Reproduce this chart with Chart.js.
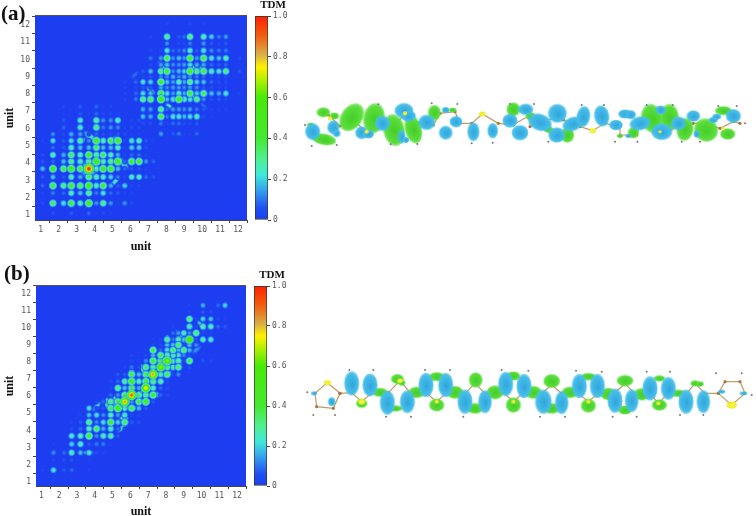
<!DOCTYPE html>
<html>
<head>
<meta charset="utf-8" />
<title>TDM</title>
<style>
html, body { margin: 0; padding: 0; background: #fff; }
#page { position: relative; width: 756px; height: 516px; overflow: hidden; filter: blur(0.4px); }
#page div { position: absolute; }
.tag { font: bold 21px "Liberation Serif", serif; color: #111; }
</style>
</head>
<body>
<div id="page">
  <div style="left:0;top:0;width:250px;height:254px"><canvas id="heatA" width="250" height="254"></canvas></div>
  <div style="left:231px;top:0;width:60px;height:240px"><canvas id="barA" width="60" height="240"></canvas></div>
  <div style="left:300px;top:90px;width:456px;height:70px"><canvas id="molA" width="456" height="70"></canvas></div>
  <div style="left:0;top:270px;width:249px;height:249px"><canvas id="heatB" width="249" height="249"></canvas></div>
  <div style="left:230px;top:270px;width:60px;height:236px"><canvas id="barB" width="60" height="236"></canvas></div>
  <div style="left:300px;top:360px;width:456px;height:70px"><canvas id="molB" width="456" height="70"></canvas></div>
  <div class="tag" style="left:1px;top:1px">(a)</div>
  <div class="tag" style="left:4px;top:261px">(b)</div>
</div>
<script src="https://cdn.jsdelivr.net/npm/chart.js@4"></script>
<script>
var unitTicks = [1, 2, 3, 4, 5, 6, 7, 8, 9, 10, 11, 12];
var unitMarks = [1.5, 2.5, 3.5, 4.5, 5.5, 6.5, 7.5, 8.5, 9.5, 10.5, 11.5, 12.5];
var barTicks = [0, 0.2, 0.4, 0.6, 0.8, 1];

// colour bar, value then colour
var mapValues = [0, 0.06, 0.12, 0.17, 0.22, 0.3, 0.4, 0.6, 0.68, 0.75, 0.81, 0.9, 1];
var mapColors = ["#1c3ef0", "#2050f0", "#3088f0", "#38b8e8", "#40e8d8", "#50f090", "#44ea30", "#48ea08", "#a8f000", "#fff000", "#d8b048", "#f06010", "#ff2000"];

// panel a, lower cluster: spot positions in unit, values in percent, rows from the top
var aLowPos = [1.1, 1.68, 2.27, 2.7, 3.2, 3.68, 4.1, 4.48, 4.9, 5.3, 5.68, 6.07, 6.48, 6.87, 7.28];
var aLow = [
  [0, 0, 4, 0, 8, 0, 10, 3, 3, 0, 0, 0, 0, 0, 0],
  [0, 0, 3, 0, 8, 3, 10, 5, 5, 3, 0, 0, 0, 0, 0],
  [0, 0, 8, 0, 28, 3, 34, 15, 15, 30, 0, 5, 6, 0, 0],
  [0, 0, 10, 0, 28, 3, 36, 12, 15, 14, 4, 6, 5, 0, 0],
  [0, 14, 5, 18, 16, 6, 10, 6, 6, 8, 5, 3, 3, 0, 0],
  [3, 24, 8, 24, 34, 14, 50, 30, 42, 50, 5, 26, 30, 8, 3],
  [0, 10, 8, 30, 20, 20, 40, 20, 20, 30, 4, 22, 22, 6, 0],
  [6, 30, 18, 40, 30, 48, 34, 40, 30, 18, 5, 10, 10, 3, 0],
  [8, 10, 20, 35, 30, 35, 58, 30, 35, 55, 10, 45, 45, 15, 10],
  [20, 50, 42, 55, 45, 100, 30, 50, 50, 20, 10, 8, 8, 3, 0],
  [8, 20, 8, 30, 18, 40, 30, 28, 22, 12, 5, 28, 28, 10, 8],
  [10, 45, 35, 48, 40, 55, 30, 45, 18, 8, 22, 5, 4, 0, 0],
  [3, 12, 10, 30, 20, 35, 12, 25, 10, 8, 3, 3, 0, 0, 0],
  [5, 40, 25, 45, 30, 52, 15, 35, 15, 3, 15, 5, 0, 0, 0],
  [0, 6, 0, 8, 0, 10, 3, 5, 3, 0, 0, 0, 0, 0, 0]
];

// panel a, upper cluster
var aHighPos = [5.7, 6.3, 6.7, 7.12, 7.7, 8.04, 8.38, 8.7, 9.0, 9.32, 9.7, 10.08, 10.52, 10.93, 11.32, 12.08];
var aHigh = [
  [0, 0, 0, 0, 0, 5, 0, 0, 0, 5, 0, 3, 0, 0, 0, 0],
  [0, 0, 0, 4, 0, 34, 0, 8, 10, 36, 0, 32, 22, 12, 16, 0],
  [0, 0, 0, 0, 0, 14, 0, 5, 5, 12, 0, 16, 8, 4, 8, 0],
  [0, 0, 0, 4, 5, 26, 10, 10, 14, 28, 8, 26, 14, 12, 12, 0],
  [0, 0, 0, 12, 16, 42, 14, 20, 16, 46, 16, 44, 26, 20, 30, 6],
  [0, 0, 0, 6, 16, 20, 14, 14, 16, 24, 18, 18, 10, 8, 10, 0],
  [0, 0, 8, 20, 36, 44, 14, 20, 22, 50, 36, 44, 30, 26, 36, 8],
  [0, 0, 4, 8, 14, 14, 18, 14, 18, 14, 12, 10, 6, 5, 6, 0],
  [4, 10, 24, 22, 46, 20, 16, 30, 18, 36, 22, 20, 10, 6, 6, 0],
  [3, 5, 8, 8, 18, 14, 16, 16, 14, 16, 14, 8, 6, 3, 4, 0],
  [4, 10, 24, 20, 44, 24, 16, 28, 18, 44, 22, 40, 20, 18, 26, 4],
  [3, 12, 36, 40, 55, 20, 26, 50, 30, 26, 36, 14, 6, 8, 6, 0],
  [0, 0, 18, 16, 36, 10, 16, 16, 14, 16, 12, 8, 4, 3, 4, 0],
  [0, 0, 20, 18, 42, 12, 26, 26, 20, 24, 30, 6, 3, 0, 0, 0],
  [0, 0, 6, 5, 12, 3, 10, 10, 5, 5, 8, 0, 0, 0, 0, 0],
  [0, 0, 0, 0, 16, 2, 8, 12, 3, 2, 10, 0, 0, 0, 0, 0]
];

// streaks between the spots: x, y, value, long radius, short radius, angle
var aStreaks = [
  [3.69, 3.66, 24, 12, 12, 0], [3.75, 5.54, 28, 10, 4, 40], [3.28, 5.25, 24, 7, 3, -45],
  [5.6, 3.99, 26, 10, 4, 50], [5.14, 2.93, 26, 7, 3, -45], [5.04, 5.34, 18, 8, 3.5, -50],
  [7.14, 8.2, 32, 7, 3, 45], [8.2, 7.24, 32, 7, 3, 45], [7.83, 9.59, 32, 9, 4, 45],
  [9.5, 9.49, 30, 9, 4, 45], [7.83, 7.89, 30, 9, 4, -45], [9.5, 7.89, 30, 9, 4, -45],
  [9.96, 9.49, 22, 8, 3.5, -45], [6.25, 9.11, 10, 7, 3, -45], [10.09, 7.31, 10, 7, 3, 45]
];

// panel b, one grid for both directions
var bPos = [1.1, 1.68, 2.27, 2.7, 3.2, 3.68, 4.1, 4.48, 4.9, 5.3, 5.68, 6.07, 6.48, 6.87, 7.28, 7.7, 8.07, 8.4, 8.7, 9.0, 9.32, 9.7, 10.08, 10.52, 10.93, 11.32];
var bStart = [1, 0, 1, 1, 1, 3, 3, 3, 4, 5, 6, 8, 8, 8, 9, 10, 11, 11, 13, 14, 14, 17, 17, 20, 20, 20];
var bRows = [
  [3],
  [3, 25, 8, 10, 0, 3],
  [5, 6, 7, 0, 2],
  [14, 10, 30, 20, 26, 6, 4],
  [3, 0, 22, 30, 8, 12, 12, 3],
  [28, 30, 46, 14, 30, 32, 8],
  [6, 10, 30, 40, 18, 30, 10, 4],
  [3, 8, 36, 14, 24, 46, 22, 40, 8, 6],
  [3, 20, 24, 14, 30, 16, 28, 5, 5],
  [24, 5, 8, 40, 56, 30, 42, 20, 8],
  [5, 10, 36, 42, 85, 16, 42, 50, 8],
  [10, 14, 40, 92, 38, 34, 45, 10, 6],
  [3, 36, 20, 40, 18, 78, 30, 10, 5],
  [5, 10, 32, 52, 30, 45, 36, 32, 6],
  [8, 8, 42, 20, 40, 85, 30, 40, 5, 14],
  [4, 12, 6, 38, 32, 68, 36, 30, 38, 0, 6],
  [5, 3, 14, 45, 40, 68, 30, 32, 4, 40, 0, 7, 5],
  [4, 0, 5, 20, 40, 32, 30, 26, 14, 6],
  [3, 42, 10, 25, 38, 22, 38, 20],
  [5, 6, 20, 20, 38, 6, 20, 14],
  [3, 4, 34, 12, 30, 22, 62, 8, 30, 28],
  [10, 16, 28, 14, 38, 4, 3],
  [3, 0, 0, 30, 5, 32, 30, 10, 8],
  [36, 5, 22, 20, 4, 2],
  [4, 0, 8, 5],
  [3, 0, 18, 0, 10, 22]
];
var bStreaks = [
  [4.11, 5.4, 24, 8, 3, -50], [5.51, 4.13, 24, 8, 3, -45], [3.64, 2.7, 28, 7, 3, 0],
  [5.64, 4.72, 34, 6, 3, 0], [7.38, 6.09, 46, 7, 3.5, 0], [6.07, 5.31, 38, 7, 3.5, 0],
  [8.03, 7.3, 46, 7, 3.5, -20], [6.72, 7.56, 38, 7, 3, 70], [6.07, 7.36, 44, 6, 3.5, 90],
  [4.7, 5.6, 38, 7, 3, 90], [5.13, 5.7, 44, 7, 3, 90], [6.54, 6.19, 48, 7, 3, -50],
  [6.91, 6.48, 34, 7, 3, -50], [8.78, 9.51, 32, 9, 3.5, 60], [10, 10.16, 26, 8, 3, 45],
  [9.72, 8.73, 14, 8, 3.5, -45], [8.07, 9.32, 34, 6, 3, 90], [8.69, 8.0, 28, 6, 3, 40]
];

// molecule lobes: position along the chain, height, radii, tilt
var molAGreen = [
  [70, 67, 18, 13, 0], [103, 78, 12, 9, 0], [32, 104, 10, 5, 0], [72, 148, 32, 15, 10],
  [155, 82, 28, 40, 35], [222, 85, 28, 40, 10], [282, 120, 28, 42, -10], [340, 118, 22, 38, -15],
  [403, 68, 17, 20, 0], [458, 60, 10, 6, 0], [640, 58, 18, 18, 20], [693, 80, 15, 12, 30],
  [745, 118, 15, 10, 20], [802, 135, 18, 20, 0], [960, 138, 8, 5, 0], [1000, 128, 15, 15, 0],
  [1055, 85, 28, 38, -10], [1108, 82, 25, 35, 0], [1155, 118, 22, 30, 10], [1218, 120, 32, 30, 30],
  [1270, 62, 22, 12, 0], [1283, 132, 20, 15, 0]
];
var molACyan = [
  [38, 125, 20, 22, 0], [100, 112, 16, 18, 0], [110, 130, 10, 10, 0], [185, 128, 17, 17, 0],
  [205, 132, 15, 12, 0], [247, 100, 20, 20, 0], [305, 140, 10, 18, 0], [312, 62, 25, 20, 0],
  [325, 78, 20, 15, 0], [318, 150, 8, 8, 0], [380, 97, 22, 20, 0], [437, 60, 10, 8, 0],
  [468, 95, 17, 15, 0], [437, 128, 18, 18, 0], [520, 125, 16, 25, 0], [578, 122, 14, 20, 0],
  [630, 92, 20, 18, 0], [677, 58, 20, 15, 0], [660, 128, 22, 20, 0], [720, 97, 32, 22, 20],
  [772, 70, 25, 25, 0], [770, 135, 22, 20, 0], [818, 102, 28, 18, -20], [850, 80, 18, 28, 10],
  [905, 78, 20, 28, -10], [948, 105, 18, 14, 0], [975, 72, 18, 12, 0], [992, 74, 14, 12, 0],
  [985, 138, 8, 5, 0], [1020, 100, 28, 18, -10], [1082, 60, 14, 12, 0], [1085, 125, 28, 22, 0],
  [1135, 100, 20, 18, 0], [1180, 78, 18, 15, 0], [1240, 90, 12, 8, 0], [1250, 80, 12, 8, 0],
  [1300, 78, 20, 18, 0], [1190, 132, 8, 10, 0]
];
var molAYellow = [[547, 72, 9, 7, 0], [878, 122, 9, 7, 0], [90, 85, 6, 5, 0], [200, 125, 6, 5, 0], [315, 70, 6, 5, 0], [1080, 125, 5, 4, 0], [1270, 115, 5, 4, 0]];
var molAChain = [[85, 75], [120, 108], [170, 100], [200, 125], [240, 100], [290, 100], [315, 70], [345, 95], [400, 105], [420, 70], [465, 65], [480, 100], [515, 100], [547, 72], [595, 100], [640, 105], [690, 75], [690, 110], [760, 85], [790, 90], [840, 110], [878, 122], [915, 100], [960, 110], [960, 135], [1010, 135], [1020, 100], [1075, 110], [1100, 130], [1130, 110], [1180, 100], [1215, 100], [1260, 115], [1300, 95], [1320, 100]];
var molAH = [[15, 105], [35, 168], [110, 165], [235, 43], [272, 163], [352, 162], [395, 40], [472, 42], [515, 160], [578, 158], [630, 42], [702, 42], [745, 155], [845, 45], [912, 45], [945, 155], [1012, 155], [1040, 45], [1118, 45], [1145, 155], [1200, 155], [1255, 48], [1310, 48], [1335, 100]];

var molBGreen = [
  [185, 130, 15, 12, 0], [240, 97, 20, 12, 0], [292, 57, 17, 13, 0], [305, 68, 10, 8, 0], [285, 145, 20, 8, 0],
  [350, 97, 22, 15, 0], [410, 50, 20, 12, 0], [410, 135, 20, 17, 0], [465, 97, 22, 17, 0], [527, 60, 18, 20, 0],
  [525, 145, 22, 14, 0], [585, 97, 22, 18, 0], [640, 48, 18, 12, 0], [640, 135, 20, 20, 0], [700, 97, 22, 17, 0],
  [755, 63, 22, 18, 0], [755, 145, 22, 14, 0], [810, 97, 22, 15, 0], [865, 50, 20, 10, 0], [865, 137, 20, 18, 0],
  [925, 102, 22, 16, 0], [975, 62, 22, 15, 0], [975, 150, 18, 12, 0], [1025, 103, 22, 16, 0], [1078, 55, 15, 8, 0],
  [1078, 135, 20, 15, 0], [1135, 100, 20, 10, 0], [1185, 70, 12, 8, 0], [1200, 72, 10, 7, 0]
];
var molBCyan = [
  [155, 70, 20, 32, 0], [210, 75, 20, 30, 0], [262, 128, 20, 32, 0], [322, 125, 20, 30, 0], [378, 75, 20, 32, 0],
  [437, 75, 20, 32, 0], [495, 125, 20, 32, 0], [555, 125, 18, 30, 0], [617, 72, 20, 32, 0], [672, 78, 20, 32, 0],
  [730, 125, 22, 32, 0], [785, 128, 18, 30, 0], [838, 78, 20, 32, 0], [892, 78, 20, 32, 0], [945, 122, 20, 32, 0],
  [995, 122, 18, 30, 0], [1050, 85, 20, 32, 0], [1105, 85, 20, 30, 0], [1158, 125, 20, 32, 0], [1210, 125, 18, 30, 0],
  [42, 100, 8, 5, 0], [95, 125, 10, 12, 0], [1265, 95, 10, 5, 0], [1330, 100, 10, 5, 0]
];
var molBYellow = [[82, 68, 10, 7, 0], [185, 125, 10, 8, 0], [300, 62, 8, 6, 0], [1295, 135, 14, 10, 0], [410, 125, 6, 5, 0], [640, 125, 6, 5, 0], [865, 125, 6, 5, 0], [1075, 130, 6, 5, 0]];
var molBChain = [[82, 68], [120, 100], [100, 145], [50, 140], [45, 100], [82, 68], [120, 100], [155, 98], [185, 125], [220, 95], [265, 98], [300, 62], [330, 98], [380, 100], [410, 125], [440, 98], [495, 100], [525, 70], [555, 100], [610, 98], [640, 125], [670, 98], [725, 100], [755, 75], [785, 100], [835, 100], [865, 125], [895, 100], [945, 97], [975, 72], [1005, 100], [1050, 100], [1075, 130], [1105, 100], [1160, 100], [1185, 70], [1215, 100], [1255, 100], [1275, 65], [1320, 65], [1335, 100], [1295, 135], [1255, 100]];
var molBH = [[22, 97], [40, 165], [105, 165], [148, 30], [220, 30], [258, 170], [333, 170], [375, 30], [450, 30], [490, 170], [605, 30], [685, 32], [720, 170], [795, 170], [828, 32], [905, 35], [938, 170], [1010, 170], [1040, 35], [1110, 35], [1140, 165], [1210, 165], [1248, 40], [1325, 40], [1355, 105]];

Chart.defaults.animation = false;
Chart.defaults.events = [];
Chart.defaults.responsive = false;

var tickFont = { family: "'DejaVu Sans Mono', monospace", size: 8 };
var titleFont = { family: "'Liberation Serif', serif", size: 12, weight: "bold" };

function hexRgb(h) {
  return [parseInt(h.substr(1, 2), 16), parseInt(h.substr(3, 2), 16), parseInt(h.substr(5, 2), 16)];
}
function mapColor(v, alpha) {
  var i = 0;
  while (i < mapValues.length - 2 && v > mapValues[i + 1]) i++;
  var t = Math.min(1, Math.max(0, (v - mapValues[i]) / (mapValues[i + 1] - mapValues[i])));
  var a = hexRgb(mapColors[i]), b = hexRgb(mapColors[i + 1]);
  var c = [0, 1, 2].map(function (k) { return Math.round(a[k] + (b[k] - a[k]) * t); });
  return "rgba(" + c[0] + "," + c[1] + "," + c[2] + "," + alpha + ")";
}

// one soft spot as a canvas, used as the point style
var spriteCache = {};
function spot(v, rx, ry) {
  var key = v + "_" + rx + "_" + ry;
  if (spriteCache[key]) return spriteCache[key];
  var R = Math.max(rx, ry), size = Math.ceil(R) * 2 + 2;
  var cv = document.createElement("canvas");
  cv.width = cv.height = size;
  var c = cv.getContext("2d");
  c.translate(size / 2, size / 2);
  c.scale(rx / R, ry / R);
  var g = c.createRadialGradient(0, 0, 0, 0, 0, R);
  for (var i = 0; i <= 12; i++) {
    var t = i / 12;
    var f = Math.pow(1 - t * t, 1.5);
    g.addColorStop(t, mapColor(v * f, Math.min(1, f * 3.5)));
  }
  c.fillStyle = g;
  c.beginPath();
  c.arc(0, 0, R, 0, Math.PI * 2);
  c.fill();
  spriteCache[key] = cv;
  return cv;
}
function spotRadius(v) { return 1.9 + 4.6 * Math.sqrt(v); }

function gridPoints(xs, ys, rows, starts) {
  var pts = [];
  rows.forEach(function (row, i) {
    row.forEach(function (p, j) {
      if (!p) return;
      pts.push({ x: xs[j + (starts ? starts[i] : 0)], y: ys[i], v: p / 100 });
    });
  });
  return pts;
}
function streakPoints(list) {
  return list.map(function (s) {
    return { x: s[0], y: s[1], v: s[2] / 100, rx: s[3], ry: s[4], rot: s[5] };
  });
}

var plotBack = {
  id: "plotBack",
  beforeDatasetsDraw: function (chart) {
    var a = chart.chartArea, c = chart.ctx;
    c.save();
    c.fillStyle = mapColors[0];
    c.fillRect(a.left, a.top, a.right - a.left, a.bottom - a.top);
    c.restore();
  },
  afterDraw: function (chart) {
    var a = chart.chartArea, c = chart.ctx;
    c.save();
    c.strokeStyle = "#555";
    c.beginPath();
    c.moveTo(a.left, a.top - 0.5);
    c.lineTo(a.right, a.top - 0.5);
    c.stroke();
    c.restore();
  }
};

function unitAxis(min, max, size, pos) {
  return {
    type: "linear", position: pos, min: min, max: max,
    afterBuildTicks: function (s) {
      s.ticks = unitTicks.concat(unitMarks).sort(function (a, b) { return a - b; }).map(function (v) { return { value: v }; });
    },
    afterFit: function (s) {
      if (pos === "left") s.width = size; else s.height = size;
    },
    border: { display: true, color: "#444" },
    grid: {
      drawOnChartArea: false, tickLength: 3,
      tickColor: function (ctx) { return ctx.tick && Number.isInteger(ctx.tick.value) ? "rgba(0,0,0,0)" : "#444"; }
    },
    ticks: {
      autoSkip: false, maxRotation: 0, color: "#555", font: tickFont, padding: 2,
      callback: function (v) { return Number.isInteger(v) ? String(v) : ""; }
    },
    title: { display: true, text: "unit", color: "#111", font: titleFont, padding: { top: 3, bottom: 0 } }
  };
}

function heatmap(id, pts, streaks, xMin, xMax, yMin, yMax, yWidth, xHeight, top) {
  pts.sort(function (a, b) { return a.v - b.v; });
  new Chart(document.getElementById(id), {
    type: "scatter",
    data: {
      datasets: [{
        order: 1, data: pts,
        radius: 4,
        pointStyle: function (ctx) {
          if (!ctx.raw) return "circle";
          var r = spotRadius(ctx.raw.v);
          return spot(ctx.raw.v, r, r);
        }
      }, {
        order: 2, data: streakPoints(streaks),
        radius: 4,
        rotation: function (ctx) { return ctx.raw ? ctx.raw.rot : 0; },
        pointStyle: function (ctx) { return ctx.raw ? spot(ctx.raw.v, ctx.raw.rx, ctx.raw.ry) : "circle"; }
      }]
    },
    options: {
      layout: { autoPadding: false, padding: { left: 0, top: top, right: 3, bottom: 0 } },
      plugins: { legend: { display: false }, tooltip: { enabled: false } },
      scales: { x: unitAxis(xMin, xMax, xHeight, "bottom"), y: unitAxis(yMin, yMax, yWidth, "left") }
    },
    plugins: [plotBack]
  });
}

function colourBar(id) {
  new Chart(document.getElementById(id), {
    type: "bar",
    data: {
      labels: ["TDM"],
      datasets: [{
        data: [[0, 1]], barPercentage: 1, categoryPercentage: 1,
        borderColor: "#333", borderWidth: 1, borderSkipped: false,
        backgroundColor: function (ctx) {
          var a = ctx.chart.chartArea;
          if (!a) return mapColors[0];
          var g = ctx.chart.ctx.createLinearGradient(0, a.bottom, 0, a.top);
          mapValues.forEach(function (v, i) { g.addColorStop(v, mapColors[i]); });
          return g;
        }
      }]
    },
    options: {
      layout: { autoPadding: false, padding: { left: 24, right: 0, top: 0, bottom: 20 } },
      plugins: {
        legend: { display: false }, tooltip: { enabled: false },
        title: {
          display: true, text: "TDM", color: "#111", padding: { top: 0, bottom: 5 },
          font: { family: "'Liberation Serif', serif", size: 11, weight: "bold", lineHeight: 1 }
        }
      },
      scales: {
        x: { display: false },
        y: {
          position: "right", min: 0, max: 1,
          afterBuildTicks: function (s) { s.ticks = barTicks.map(function (v) { return { value: v }; }); },
          afterFit: function (s) { s.width = 23; },
          border: { display: false },
          grid: { drawOnChartArea: false, tickLength: 3, tickColor: "#444" },
          ticks: {
            color: "#555", font: tickFont, padding: 2, autoSkip: false,
            callback: function (v) { return v === 0 ? "0" : v.toFixed(1); }
          }
        }
      }
    }
  });
}

// shaded lobe, sizes are in reference thirds of a pixel
var lobeCache = {};
function lobe(rx, ry, inner, outer) {
  var key = [rx, ry, inner, outer].join("_");
  if (lobeCache[key]) return lobeCache[key];
  var kx = rx * 1.15 / 3, ky = ry * 1.15 / 3;
  var W = Math.ceil(Math.max(kx, ky)) * 2 + 2;
  var cv = document.createElement("canvas");
  cv.width = cv.height = W;
  var c = cv.getContext("2d");
  c.translate(W / 2, W / 2);
  c.scale(kx, ky);
  var g = c.createRadialGradient(0.1, 0.1, 0, 0, 0, 1);
  g.addColorStop(0, inner);
  g.addColorStop(0.8, outer);
  g.addColorStop(1, outer.replace("1)", "0.6)"));
  c.fillStyle = g;
  c.beginPath();
  c.arc(0, 0, 1, 0, Math.PI * 2);
  c.fill();
  lobeCache[key] = cv;
  return cv;
}
function lobeSet(list, inner, outer, order) {
  return {
    type: "scatter", order: order, radius: 3,
    data: list.map(function (l) { return { x: l[0], y: l[1], rx: l[2], ry: l[3], rot: l[4] }; }),
    rotation: function (ctx) { return ctx.raw ? ctx.raw.rot : 0; },
    pointStyle: function (ctx) { return ctx.raw ? lobe(ctx.raw.rx, ctx.raw.ry, inner, outer) : "circle"; }
  };
}
function xyPoints(list) {
  return list.map(function (p) { return { x: p[0], y: p[1] }; });
}
function molecule(id, green, cyan, yellow, chain, hydrogens) {
  new Chart(document.getElementById(id), {
    type: "scatter",
    data: {
      datasets: [
        { type: "line", order: 6, data: xyPoints(chain), borderColor: "#c49a68", borderWidth: 1.2, pointRadius: 1.6, pointBackgroundColor: "#a87840", pointBorderWidth: 0, fill: false },
        { order: 2, data: xyPoints(hydrogens), radius: 1, backgroundColor: "#777", borderWidth: 0 },
        lobeSet(yellow, "rgba(248,248,70,1)", "rgba(236,236,40,1)", 1),
        lobeSet(cyan, "rgba(48,165,222,1)", "rgba(70,190,232,1)", 4),
        lobeSet(green, "rgba(68,205,40,1)", "rgba(90,222,60,1)", 5)
      ]
    },
    options: {
      layout: { autoPadding: false, padding: 0 },
      plugins: { legend: { display: false }, tooltip: { enabled: false } },
      scales: {
        x: { display: false, type: "linear", min: 0, max: 1368 },
        y: { display: false, type: "linear", min: 0, max: 210, reverse: true }
      }
    }
  });
}

var lowRows = aLowPos.slice().reverse();
var highRows = aHighPos.slice().reverse();
heatmap("heatA",
  gridPoints(aLowPos, lowRows, aLow).concat(gridPoints(aHighPos, highRows, aHigh)),
  aStreaks, 0.68, 12.5, 0.71, 12.52, 35, 34, 16);
heatmap("heatB", gridPoints(bPos, bPos, bRows, bStart), bStreaks, 0.7, 12.5, 0.75, 12.45, 36, 33, 16);
colourBar("barA");
colourBar("barB");
molecule("molA", molAGreen, molACyan, molAYellow, molAChain, molAH);
molecule("molB", molBGreen, molBCyan, molBYellow, molBChain, molBH);
</script>
</body>
</html>
